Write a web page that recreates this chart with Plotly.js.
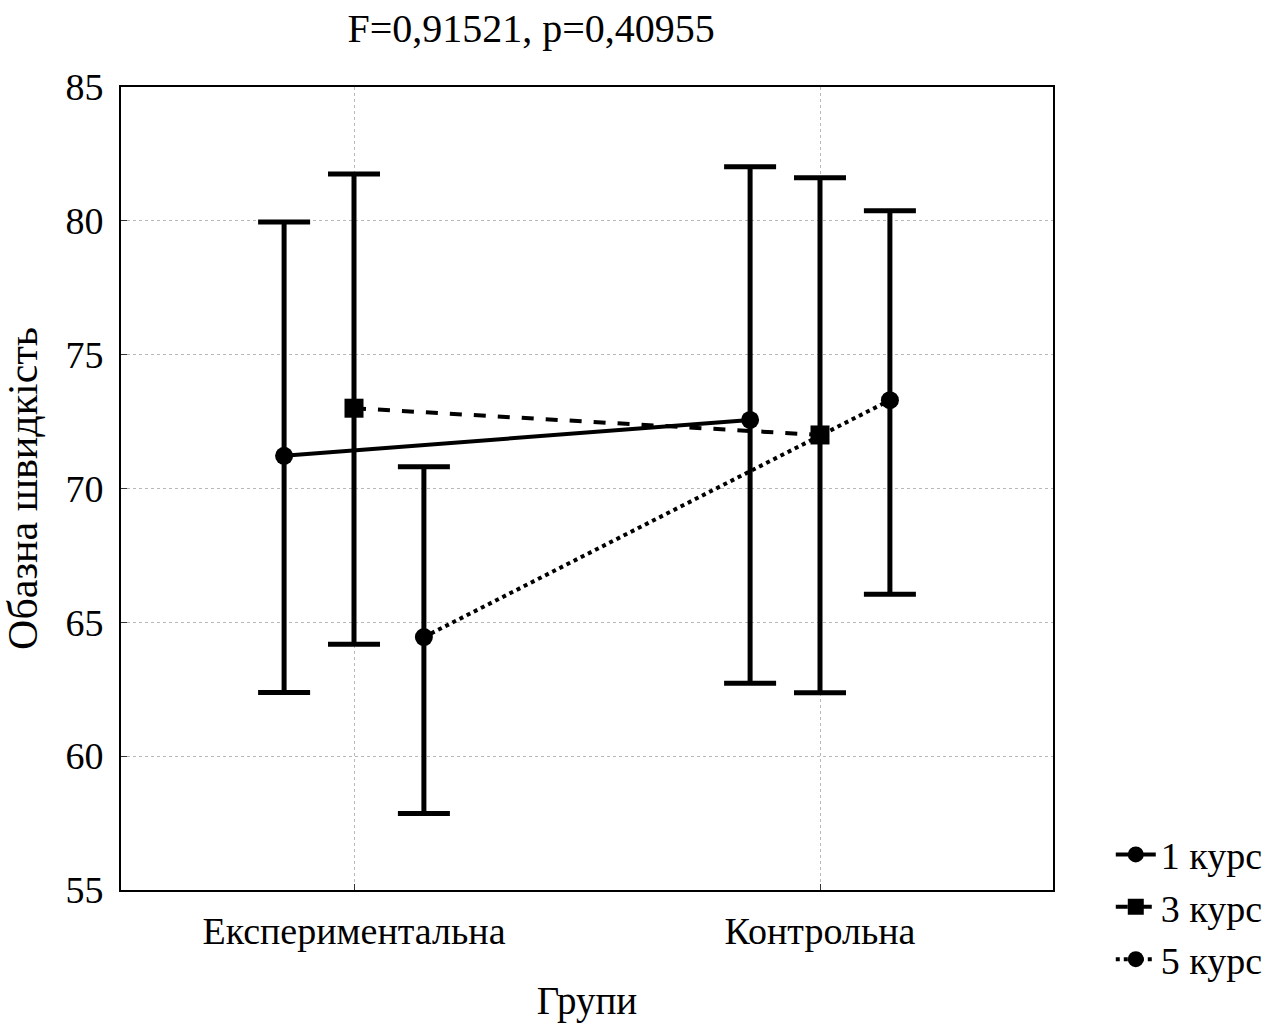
<!DOCTYPE html>
<html>
<head>
<meta charset="utf-8">
<script src="https://cdn.plot.ly/plotly-3.0.1.min.js"></script>
<style>
  html, body { margin: 0; padding: 0; background: #fff; }
  #chart { width: 1284px; height: 1023px; }
</style>
</head>
<body>
<div id="chart"></div>
<script>
// Groups on the x axis
const groups = ["Експериментальна", "Контрольна"];

// Series (course year) labels
const courses = ["1 курс", "3 курс", "5 курс"];

// Means per group for each course
const mean1 = [71.22, 72.56];
const mean3 = [73.00, 72.00];
const mean5 = [64.45, 73.30];

// Upper and lower bounds of the intervals
const upper1 = [79.96, 82.02];
const lower1 = [62.38, 62.72];
const upper3 = [81.75, 81.61];
const lower3 = [64.18, 62.37];
const upper5 = [70.81, 80.38];
const lower5 = [57.86, 66.05];

const titleText = "F=0,91521, p=0,40955";
const xTitle = "Групи";
const yTitle = "Обазна швидкість";

// Horizontal shift of each course within a group, and its styling
const shift = [-0.15, 0, 0.15];
const dashes = ["solid", "dash", "dot"];
const symbols = ["circle", "square", "circle"];

const series = [
  { mean: mean1, up: upper1, lo: lower1 },
  { mean: mean3, up: upper3, lo: lower3 },
  { mean: mean5, up: upper5, lo: lower5 }
];

const FONT = "Liberation Serif, Times New Roman, serif";

const traces = series.map((s, k) => ({
  type: "scatter",
  mode: "lines+markers",
  name: courses[k],
  x: groups.map((g, i) => i + shift[k]),
  y: s.mean,
  line: { color: "#000", width: 4, dash: dashes[k] },
  marker: { color: "#000", size: symbols[k] === "square" ? 19 : 18, symbol: symbols[k] },
  error_y: {
    type: "data",
    symmetric: false,
    array: s.mean.map((m, i) => s.up[i] - m),
    arrayminus: s.mean.map((m, i) => m - s.lo[i]),
    color: "#000",
    thickness: 5,
    width: 26
  }
}));

const layout = {
  width: 1284,
  height: 1023,
  paper_bgcolor: "#fff",
  plot_bgcolor: "#fff",
  margin: { l: 121, r: 231, t: 87, b: 133 },
  font: { family: FONT, color: "#000", size: 36 },
  title: {
    text: titleText,
    font: { family: FONT, size: 40, color: "#000" },
    x: 0.44, xanchor: "center", xref: "paper",
    y: 0.973, yanchor: "middle", yref: "container"
  },
  xaxis: {
    range: [-0.5, 1.5],
    tickmode: "array",
    tickvals: groups.map((g, i) => i),
    ticktext: groups,
    ticks: "inside",
    ticklen: 6,
    tickcolor: "#333",
    ticklabelstandoff: 6,
    tickfont: { family: FONT, size: 38 },
    showgrid: true,
    gridcolor: "#b8b8b8",
    griddash: "dot",
    gridwidth: 1,
    showline: true,
    mirror: true,
    linecolor: "#000",
    linewidth: 2,
    zeroline: false,
    title: { text: xTitle, font: { family: FONT, size: 39 }, standoff: 36 }
  },
  yaxis: {
    range: [55, 85],
    dtick: 5,
    tick0: 55,
    ticks: "inside",
    ticklen: 6,
    tickcolor: "#333",
    ticklabelstandoff: 8,
    tickfont: { family: FONT, size: 38 },
    showgrid: true,
    gridcolor: "#b8b8b8",
    griddash: "dot",
    gridwidth: 1,
    showline: true,
    mirror: true,
    linecolor: "#000",
    linewidth: 2,
    zeroline: false,
    title: { text: yTitle, font: { family: FONT, size: 42 }, standoff: 18 }
  },
  showlegend: true,
  legend: {
    x: 1.062, xanchor: "left",
    y: -0.126, yanchor: "bottom",
    font: { family: FONT, size: 38, color: "#000" },
    bgcolor: "rgba(0,0,0,0)",
    tracegroupgap: 0,
    itemwidth: 40
  }
};

Plotly.newPlot("chart", traces, layout, { displayModeBar: false, staticPlot: true });
</script>
</body>
</html>
